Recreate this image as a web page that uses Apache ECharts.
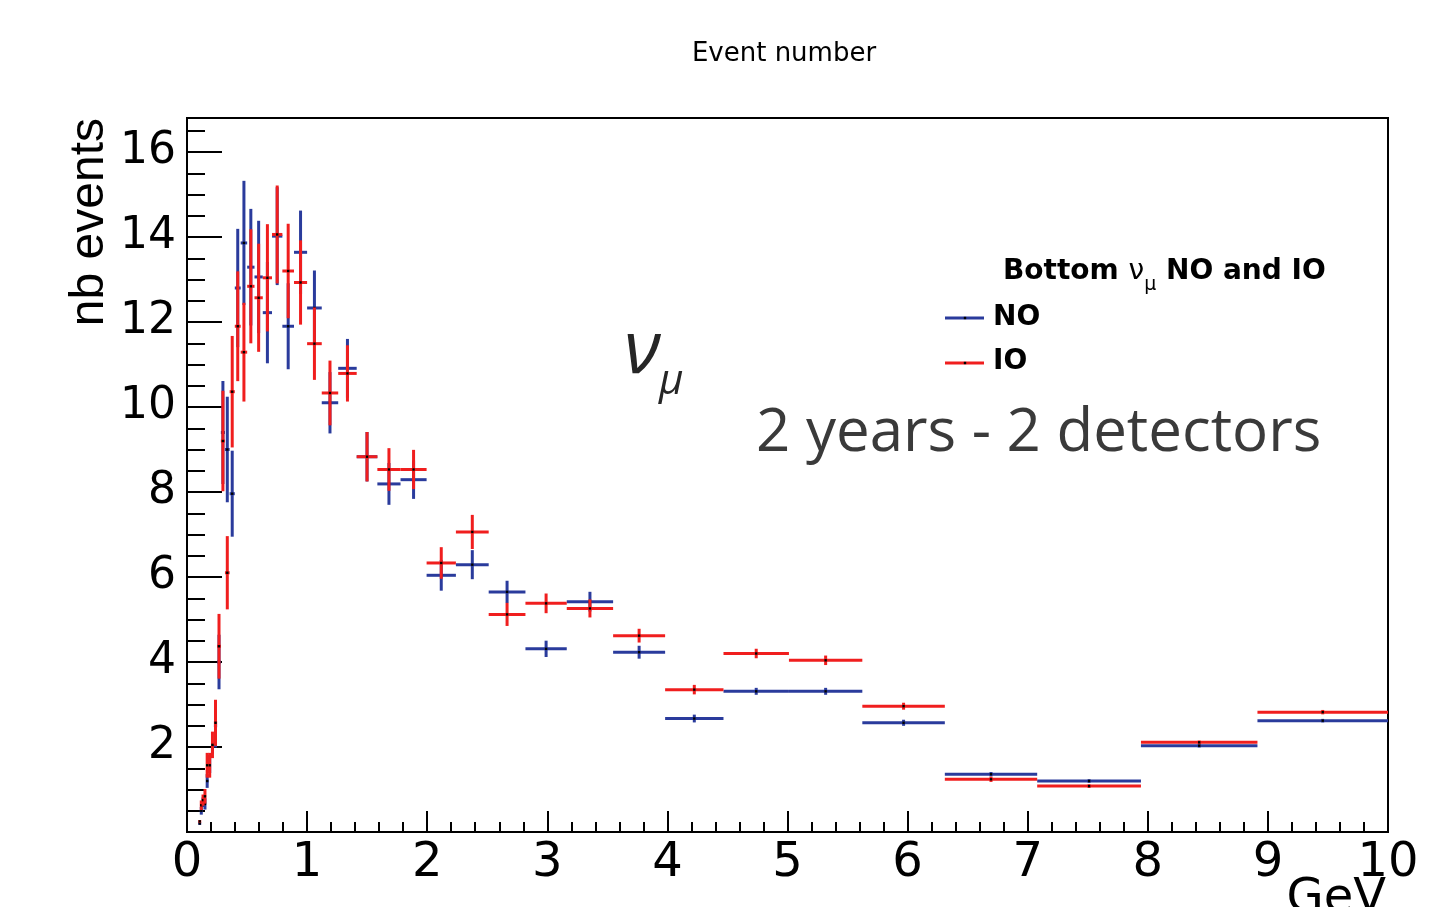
<!DOCTYPE html>
<html><head><meta charset="utf-8">
<script src="https://cdn.jsdelivr.net/npm/echarts@6/dist/echarts.min.js"></script>
<style>html,body{margin:0;padding:0;background:#fff}#c{width:1451px;height:907px}</style>
</head><body><div id="c"></div>
<script>
// Bin edges (GeV), log-spaced 20 per decade
const binEdges = [0.100,0.112,0.126,0.141,0.158,0.178,0.200,0.224,0.251,0.282,0.316,0.355,0.398,0.447,0.501,0.562,0.631,0.708,0.794,0.891,1.000,1.122,1.259,1.413,1.585,1.778,1.995,2.239,2.512,2.818,3.162,3.548,3.981,4.467,5.012,5.623,6.310,7.079,7.943,8.913,10.0];
const noValues = [0.20,0.50,0.70,0.66,1.20,1.60,1.95,2.50,4.00,9.40,9.00,7.96,12.80,13.86,13.29,13.06,12.22,14.02,11.90,13.64,12.33,10.10,10.91,8.83,8.19,8.29,6.04,6.29,5.65,4.31,5.42,4.23,2.67,3.31,3.31,2.57,1.36,1.20,2.03,2.62];
const noErrors = [0.02,0.08,0.10,0.12,0.15,0.20,0.10,0.50,0.63,1.20,1.23,1.00,1.38,1.45,1.36,1.31,1.18,1.14,1.00,0.97,0.87,0.71,0.68,0.57,0.48,0.44,0.35,0.33,0.25,0.18,0.22,0.14,0.08,0.07,0.07,0.06,0.04,0.03,0.03,0.03];
const ioValues = [0.25,0.63,0.75,0.84,1.57,1.57,2.05,2.57,4.37,9.20,6.10,10.36,11.90,11.29,12.84,12.57,13.04,14.06,13.20,12.93,11.49,10.33,10.79,8.83,8.53,8.53,6.33,7.06,5.12,5.38,5.26,4.62,3.35,4.20,4.04,2.96,1.24,1.08,2.11,2.82];
const ioErrors = [0.02,0.10,0.12,0.16,0.28,0.28,0.30,0.53,0.75,1.17,0.85,1.30,1.28,1.15,1.33,1.26,1.25,1.14,1.10,0.98,0.84,0.75,0.65,0.57,0.49,0.45,0.36,0.39,0.26,0.22,0.20,0.15,0.10,0.10,0.10,0.07,0.05,0.03,0.03,0.04];
const seriesNames = ['NO','IO'];
const colors = {NO:'#2a3b9c', IO:'#f01e1e'};

function toData(vals, errs){
  return vals.map((v,i)=>[binEdges[i], binEdges[i+1], v, errs[i]]);
}
function makeRender(color){
  return function(params, api){
    const lo = api.value(0), hi = api.value(1), v = api.value(2), e = api.value(3);
    const c = (lo+hi)/2;
    const pL = api.coord([lo, v]), pR = api.coord([hi, v]);
    const pT = api.coord([c, v+e]), pB = api.coord([c, v-e]);
    const pC = api.coord([c, v]);
    return {type:'group', children:[
      {type:'line', shape:{x1:pL[0],y1:pL[1],x2:pR[0],y2:pR[1]}, style:{stroke:color, lineWidth:3}},
      {type:'line', shape:{x1:pT[0],y1:pT[1]-0.5,x2:pB[0],y2:pB[1]+0.5}, style:{stroke:color, lineWidth:3}},
      {type:'rect', shape:{x:pC[0]-1.2, y:pC[1]-1.2, width:2.4, height:2.4}, style:{fill:'#000'}}
    ]};
  };
}
const chart = echarts.init(document.getElementById('c'), null, {renderer:'canvas'});
const ROOTFONT = '"DejaVu Sans", sans-serif';
chart.setOption({
  animation:false,
  backgroundColor:'#fff',
  grid:{left:187, right:63, top:118, bottom:75, show:true, borderColor:'#000', borderWidth:2, backgroundColor:'transparent'},
  xAxis:{type:'value', min:0, max:10, interval:1,
    axisLine:{show:true, lineStyle:{color:'#000', width:2}},
    axisTick:{show:true, inside:true, length:21, lineStyle:{color:'#000', width:2}},
    minorTick:{show:true, splitNumber:5, length:10, lineStyle:{color:'#000', width:2}},
    splitLine:{show:false}, minorSplitLine:{show:false},
    axisLabel:{fontSize:48, fontFamily:ROOTFONT, color:'#000', margin:8}
  },
  yAxis:[
    {type:'value', min:0, max:16.8, interval:2, position:'left',
      axisLine:{show:true, lineStyle:{color:'#000', width:2}},
      axisTick:{show:true, inside:true, length:35, lineStyle:{color:'#000', width:2}},
      splitLine:{show:false},
      axisLabel:{fontSize:44, fontFamily:ROOTFONT, color:'#000', margin:11,
        formatter:function(v){ return (v>0 && v<=16 && Math.abs(v%2)<1e-9) ? String(v) : ''; }}
    },
    {type:'value', min:0, max:16.8, interval:0.5, position:'left',
      axisLine:{show:false},
      axisTick:{show:true, inside:true, length:18, lineStyle:{color:'#000', width:2}},
      splitLine:{show:false},
      axisLabel:{show:false}
    }
  ],
  series:[
    {name:seriesNames[0], type:'custom', renderItem:makeRender(colors.NO), data:toData(noValues, noErrors), encode:{x:[0,1], y:2}, yAxisIndex:0, z:3},
    {name:seriesNames[1], type:'custom', renderItem:makeRender(colors.IO), data:toData(ioValues, ioErrors), encode:{x:[0,1], y:2}, yAxisIndex:0, z:4}
  ],
  graphic:[
    {type:'text', x:784, y:54, style:{text:'Event number', fontSize:26, fontFamily:ROOTFONT, fill:'#000', align:'center', verticalAlign:'middle'}},
    {type:'text', x:90, y:118, rotation:Math.PI/2, style:{text:'nb events', fontSize:48, fontFamily:'"Liberation Sans", Arial, sans-serif', fill:'#000', align:'right', verticalAlign:'middle'}},
    {type:'text', x:1386, y:900, style:{text:'GeV', fontSize:48, fontFamily:ROOTFONT, fill:'#000', align:'right', verticalAlign:'middle'}},
    // legend header
    {type:'text', x:1003, y:272, style:{
      text:'{b|Bottom }{n|ν}{s|μ}{b| NO and IO}',
      align:'left', verticalAlign:'middle',
      rich:{
        b:{fontSize:28, fontWeight:'bold', fontFamily:ROOTFONT, fill:'#000', lineHeight:46, verticalAlign:'middle'},
        n:{fontSize:28, fontFamily:ROOTFONT, fill:'#000', lineHeight:46, verticalAlign:'middle'},
        s:{fontSize:19, fontFamily:ROOTFONT, fill:'#000', lineHeight:19, verticalAlign:'bottom'}
      }}},
    {type:'line', shape:{x1:945, y1:318, x2:984, y2:318}, style:{stroke:colors.NO, lineWidth:3}},
    {type:'rect', shape:{x:963.8, y:316.8, width:2.4, height:2.4}, style:{fill:'#000'}},
    {type:'text', x:993, y:318, style:{text:'NO', fontSize:28, fontWeight:'bold', fontFamily:ROOTFONT, fill:'#000', align:'left', verticalAlign:'middle'}},
    {type:'line', shape:{x1:945, y1:363, x2:984, y2:363}, style:{stroke:colors.IO, lineWidth:3}},
    {type:'rect', shape:{x:963.8, y:361.8, width:2.4, height:2.4}, style:{fill:'#000'}},
    {type:'text', x:993, y:362, style:{text:'IO', fontSize:28, fontWeight:'bold', fontFamily:ROOTFONT, fill:'#000', align:'left', verticalAlign:'middle'}},
    // annotations
    {type:'text', x:624, y:352, style:{text:'ν', fontSize:74, fontStyle:'italic', fontFamily:'"Open Sans", sans-serif', fill:'#262626', align:'left', verticalAlign:'middle'}},
    {type:'text', x:659, y:382, style:{text:'μ', fontSize:42, fontStyle:'italic', fontFamily:'"Open Sans", sans-serif', fill:'#262626', align:'left', verticalAlign:'middle'}},
    {type:'text', x:756, y:434, style:{text:'2 years - 2 detectors', fontSize:60, fontFamily:'"Open Sans", sans-serif', fill:'#3a3a3a', align:'left', verticalAlign:'middle'}}
  ]
});
</script></body></html>
